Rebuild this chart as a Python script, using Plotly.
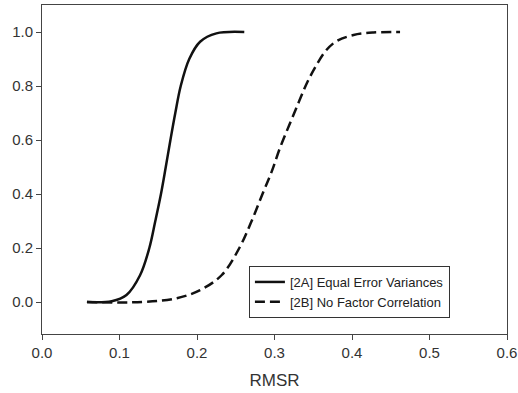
import plotly.graph_objects as go

# Data (cumulative proportion vs RMSR)
solid_x = [0.058, 0.090, 0.109, 0.1265, 0.1385, 0.1462, 0.1535, 0.1597, 0.1657, 0.172, 0.179, 0.190, 0.204, 0.225, 0.261]
solid_y = [0.000, 0.003, 0.026, 0.099, 0.200, 0.300, 0.400, 0.500, 0.600, 0.700, 0.800, 0.900, 0.964, 0.995, 1.000]

dash_x = [0.058, 0.130, 0.174, 0.204, 0.232, 0.2546, 0.2705, 0.2845, 0.296, 0.307, 0.320, 0.332, 0.342, 0.353, 0.366, 0.380, 0.402, 0.4275, 0.462]
dash_y = [0.000, 0.000, 0.014, 0.044, 0.100, 0.200, 0.300, 0.400, 0.480, 0.570, 0.662, 0.745, 0.812, 0.872, 0.930, 0.966, 0.989, 0.998, 1.000]

x_ticks = [0.0, 0.1, 0.2, 0.3, 0.4, 0.5, 0.6]
y_ticks = [0.0, 0.2, 0.4, 0.6, 0.8, 1.0]

name_a = "[2A] Equal Error Variances"
name_b = "[2B] No Factor Correlation"

fig = go.Figure()
fig.add_trace(go.Scatter(x=solid_x, y=solid_y, mode="lines", name=name_a,
                         line=dict(color="#111111", width=2.5, shape="spline", smoothing=1.0)))
fig.add_trace(go.Scatter(x=dash_x, y=dash_y, mode="lines", name=name_b,
                         line=dict(color="#111111", width=2.5, dash="10px,5px", shape="spline", smoothing=1.0)))

axis_common = dict(showgrid=False, zeroline=False, showline=True, linecolor="#444444",
                   linewidth=1, mirror=True, ticks="outside", ticklen=5, tickcolor="#444444",
                   automargin=False,
                   tickfont=dict(family="Arial, Liberation Sans", size=15, color="#333333"))

fig.update_xaxes(range=[0, 0.6], tickvals=x_ticks, tickformat=".1f",
                 title=dict(text="RMSR", font=dict(family="Arial, Liberation Sans", size=17, color="#333333"), standoff=14),
                 **axis_common)
fig.update_yaxes(range=[-0.1185, 1.1], tickvals=y_ticks, tickformat=".1f", **axis_common)

fig.update_layout(
    width=518, height=393,
    margin=dict(l=42, r=11, t=5, b=59),
    plot_bgcolor="white", paper_bgcolor="white",
    showlegend=True,
    legend=dict(x=0.445, y=0.2067, xanchor="left", yanchor="top",
                bgcolor="white", bordercolor="#333333", borderwidth=1,
                font=dict(family="Arial, Liberation Sans", size=13, color="#222222"),
                tracegroupgap=0),
)

fig.write_html("out.html", config={"displayModeBar": False},
               post_script="document.body.style.margin='0';")
